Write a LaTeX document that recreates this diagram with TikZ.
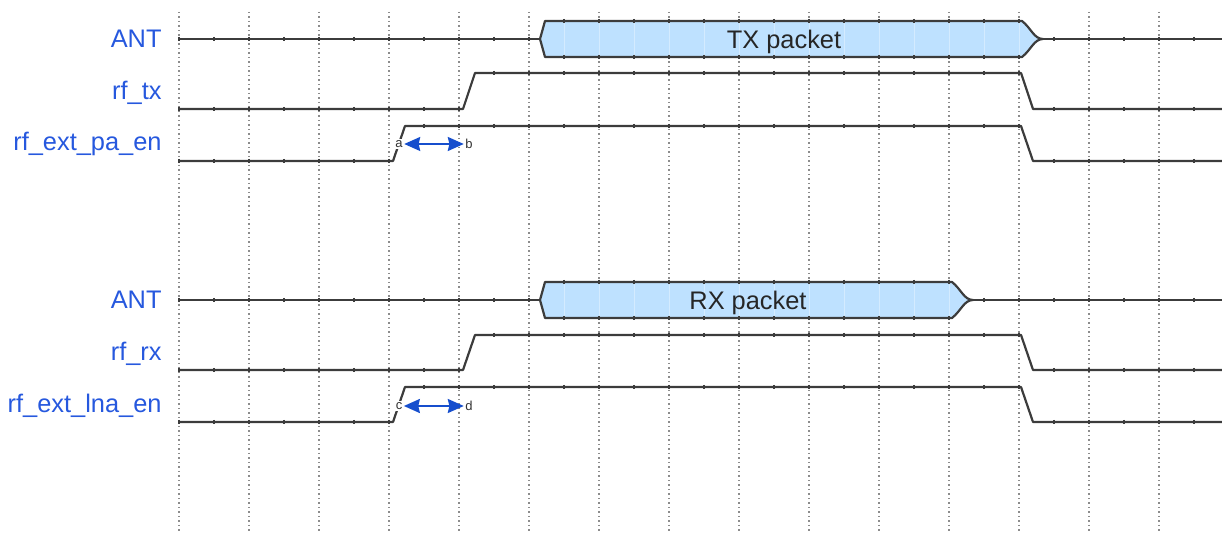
\documentclass[tikz,border=0pt]{standalone}
\usepackage{fontspec}
\setmainfont{Liberation Sans}
\usetikzlibrary{arrows.meta}
\definecolor{siggray}{RGB}{60,60,60}
\definecolor{gridgray}{RGB}{140,140,140}
\definecolor{nameblue}{RGB}{38,88,222}
\definecolor{pktblue}{RGB}{190,225,255}
\definecolor{arrblue}{RGB}{22,78,205}

\begin{document}
\begin{tikzpicture}[
        x=0.5pt, y=-0.5pt,
        signame/.style={anchor=base east, text=nameblue, inner sep=0pt,
                        font=\fontsize{12.7}{15}\selectfont},
        pktname/.style={anchor=base, text=black!85, inner sep=0pt,
                        font=\fontsize{12.7}{15}\selectfont},
        wave/.style={draw=siggray, line width=1.1pt, line join=round},
        wavetick/.style={draw=siggray, line width=0.6pt},
        gridline/.style={draw=gridgray, line width=0.6pt,
                         dash pattern=on 0.6pt off 1.65pt},
        marker/.style={fill=white, inner sep=0.6pt, text=black!80,
                       font=\fontsize{6.5}{7}\selectfont},
        span/.style={draw=arrblue, line width=1pt,
                     {Stealth[length=8pt, width=7pt, inset=0.8pt]}-{Stealth[length=8pt, width=7pt, inset=0.8pt]}},
      ]
        \useasboundingbox (0,0) rectangle (1222,534);

        \foreach \k in {0,...,14}
          \draw[gridline] ({179+70*\k},12) -- ({179+70*\k},532);

        \node[signame] (anttx) at (162,48) {ANT};
        \node[signame] (rftx) at (162,100) {rf\_tx};
        \node[signame] (paen) at (162,151) {rf\_ext\_pa\_en};
        \node[signame] (antrx) at (162,309) {ANT};
        \node[signame] (rfrx) at (162,361) {rf\_rx};
        \node[signame] (lnaen) at (162,413) {rf\_ext\_lna\_en};

        \draw[wave, fill=pktblue] (540,39) -- (545,21) -- (1022,21)
          .. controls (1031,28) and (1034,39) .. (1043,39)
          .. controls (1034,39) and (1031,50) .. (1022,57)
          -- (545,57) -- cycle;
        \draw[wave, fill=pktblue] (540,300) -- (545,282) -- (952,282)
          .. controls (961,289) and (964,300) .. (973,300)
          .. controls (964,300) and (961,311) .. (952,318)
          -- (545,318) -- cycle;
        \foreach \k in {11,...,24}
          \draw[white, opacity=0.35, line width=0.5pt] ({179+35*\k},22) -- ({179+35*\k},56);
        \foreach \k in {11,...,22}
          \draw[white, opacity=0.35, line width=0.5pt] ({179+35*\k},283) -- ({179+35*\k},317);
        \draw[wave] (179,39) -- (540,39);
        \draw[wave] (1043,39) -- (1222,39);
        \draw[wave] (179,300) -- (540,300);
        \draw[wave] (973,300) -- (1222,300);

        \draw[wave] (179,109) -- (463,109) -- (475,73) -- (1021,73) -- (1033,109) -- (1222,109);
        \draw[wave] (179,161) -- (393,161) -- (405,126) -- (1021,126) -- (1033,161) -- (1222,161);
        \draw[wave] (179,370) -- (463,370) -- (475,335) -- (1021,335) -- (1033,370) -- (1222,370);
        \draw[wave] (179,422) -- (393,422) -- (405,387) -- (1021,387) -- (1033,422) -- (1222,422);

        \foreach \y/\a/\b in {39/0/10, 21/11/24, 57/11/24, 39/25/29,
                              109/0/8, 73/9/24, 109/25/29,
                              161/0/6, 126/7/24, 161/25/29,
                              300/0/10, 282/11/22, 318/11/22, 300/23/29,
                              370/0/8, 335/9/24, 370/25/29,
                              422/0/6, 387/7/24, 422/25/29}
          \foreach \k in {\a,...,\b}
            \draw[wavetick] ({179+35*\k},\y-2) -- ({179+35*\k},\y+2);

        \node[pktname] (txpkt) at (784,49) {TX packet};
        \node[pktname] (rxpkt) at (748,310) {RX packet};

        \node[marker] (a) at (399,144) {a};
        \node[marker] (b) at (469,144) {b};
        \node[marker] (c) at (399,406) {c};
        \node[marker] (d) at (469,406) {d};
        \draw[span] (a) -- (b);
        \draw[span] (c) -- (d);
      \end{tikzpicture}
\end{document}
